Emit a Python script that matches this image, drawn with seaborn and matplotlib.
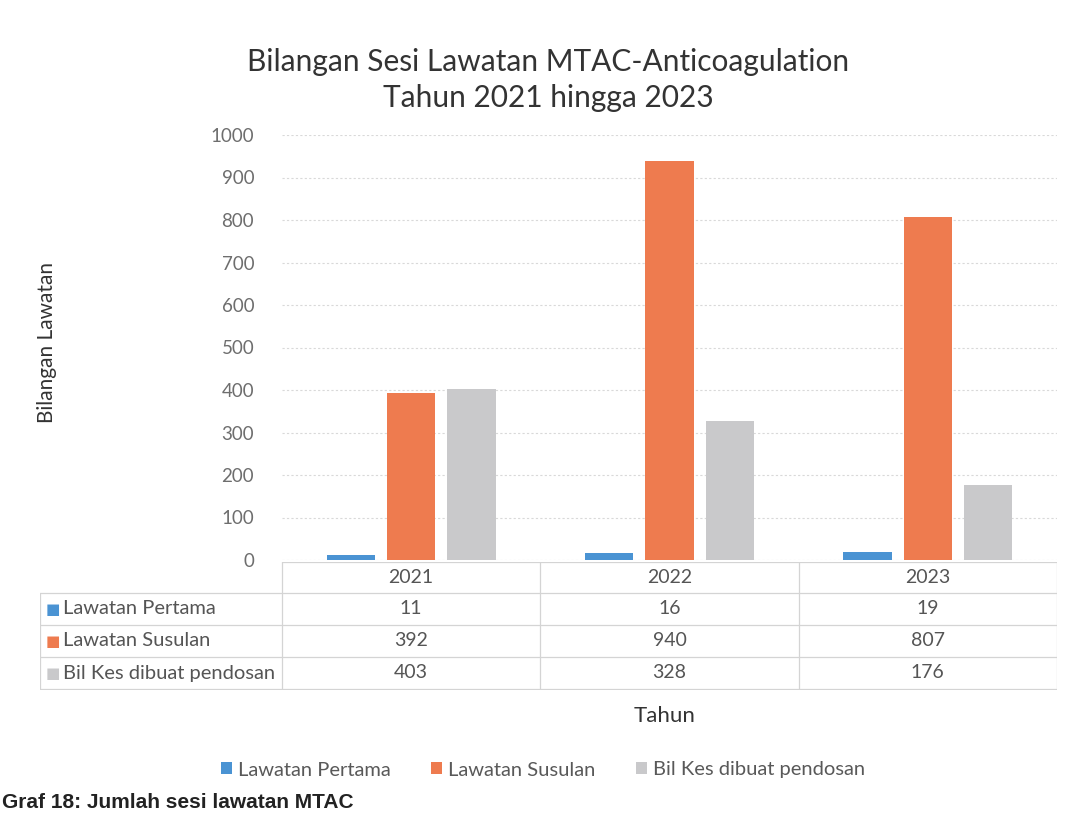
import matplotlib
matplotlib.use('Agg')
import matplotlib.pyplot as plt
from matplotlib.patches import Patch
import seaborn as sns
import pandas as pd

# ------------------------------------------------------------
# data
# ------------------------------------------------------------
tahun = ['2021', '2022', '2023']
lawatan_pertama = [11, 16, 19]
lawatan_susulan = [392, 940, 807]
bil_kes_pendosan = [403, 328, 176]
siri = ['Lawatan Pertama', 'Lawatan Susulan', 'Bil Kes dibuat pendosan']
warna = ['#4A93D3', '#EE7B4F', '#C9C9CB']
y_ticks = list(range(0, 1001, 100))

df = pd.DataFrame({
    'Tahun': tahun * 3,
    'Bilangan': lawatan_pertama + lawatan_susulan + bil_kes_pendosan,
    'Jenis': [s for s in siri for _ in tahun],
})

sns.set_style('white')
plt.rcParams['font.family'] = ['Lato', 'DejaVu Sans']

W, H = 1078, 816
fig = plt.figure(figsize=(W / 100, H / 100), dpi=100)

def fx(px):
    return px / W

def fy(py):
    return 1 - py / H

# plot area
ax_l, ax_r, ax_t, ax_b = 282, 1057, 135, 560
ax = fig.add_axes([fx(ax_l), fy(ax_b), fx(ax_r - ax_l), (ax_b - ax_t) / H])
sns.barplot(data=df, x='Tahun', y='Bilangan', hue='Jenis', palette=warna,
            hue_order=siri, width=0.7, gap=0.2, ax=ax, legend=False,
            linewidth=0, saturation=1)
ax.set_ylim(0, 1000)
ax.set_xlim(-0.5, 2.5)
ax.set_yticks(y_ticks)
ax.set_yticklabels([str(v) for v in y_ticks], color='#6E6E6E', fontsize=13.5)
ax.tick_params(axis='y', length=0, pad=20)
ax.set_xticks([])
ax.set_xlabel('')
ax.set_ylabel('')
ax.grid(axis='y', color='#D9D9D9', linestyle=(0, (2, 2)), linewidth=0.8)
ax.set_axisbelow(True)
for s in ax.spines.values():
    s.set_visible(False)

# titles
fig.text(fx(548), fy(62), 'Bilangan Sesi Lawatan MTAC-Anticoagulation',
         ha='center', va='center', fontsize=21.5, color='#333333')
fig.text(fx(548), fy(98), 'Tahun 2021 hingga 2023',
         ha='center', va='center', fontsize=21.5, color='#333333')
fig.text(fx(47), fy(342), 'Bilangan Lawatan', rotation=90,
         ha='center', va='center', fontsize=15, color='#333333')

# data table under the chart
tx0, tx1, ty0, ty1 = 40, 1057, 562, 690
tax = fig.add_axes([fx(tx0), fy(ty1), fx(tx1 - tx0), (ty1 - ty0) / H])
tax.set_xlim(tx0, tx1)
tax.set_ylim(ty1, ty0)
tax.axis('off')

col_edges = [ax_l + (ax_r - ax_l) * i / 3 for i in range(4)]
row_edges = [562, 593, 625, 657, 689]
line_kw = dict(color='#D4D4D4', linewidth=0.9)
for i, y in enumerate(row_edges):
    x_start = tx0 if i >= 1 else ax_l
    tax.plot([x_start, ax_r], [y, y], **line_kw)
for x in col_edges:
    tax.plot([x, x], [row_edges[0], row_edges[-1]], **line_kw)
tax.plot([tx0, tx0], [row_edges[1], row_edges[-1]], **line_kw)

centres = [(col_edges[i] + col_edges[i + 1]) / 2 for i in range(3)]
for c, t in zip(centres, tahun):
    tax.text(c, (row_edges[0] + row_edges[1]) / 2, t, ha='center', va='center',
             fontsize=14, color='#555555')

values = [lawatan_pertama, lawatan_susulan, bil_kes_pendosan]
for r, (nama, col, vals) in enumerate(zip(siri, warna, values)):
    yc = (row_edges[r + 1] + row_edges[r + 2]) / 2
    tax.text(46, yc, '■', ha='left', va='center', fontsize=11, color=col,
             family=['DejaVu Sans'])
    tax.text(63, yc, nama, ha='left', va='center', fontsize=14.5, color='#555555')
    for c, v in zip(centres, vals):
        tax.text(c, yc, str(v), ha='center', va='center', fontsize=14,
                 color='#555555')

fig.text(fx(665), fy(716), 'Tahun', ha='center', va='center', fontsize=16,
         color='#333333')

# legend
handles = [Patch(facecolor=c, edgecolor='none', label=s) for s, c in zip(siri, warna)]
fig.legend(handles=handles, loc='center', bbox_to_anchor=(fx(543), fy(770)),
           ncol=3, frameon=False, fontsize=14.5, handlelength=0.55, handleheight=0.55,
           handletextpad=0.3, columnspacing=2.0, labelcolor='#595959')

# caption
fig.text(fx(2), fy(793), 'Graf 18: Jumlah sesi lawatan MTAC', ha='left', va='top',
         fontsize=15, fontweight='bold', color='#222222',
         family=['Liberation Sans', 'DejaVu Sans'])

fig.savefig('out.png', dpi=100)
